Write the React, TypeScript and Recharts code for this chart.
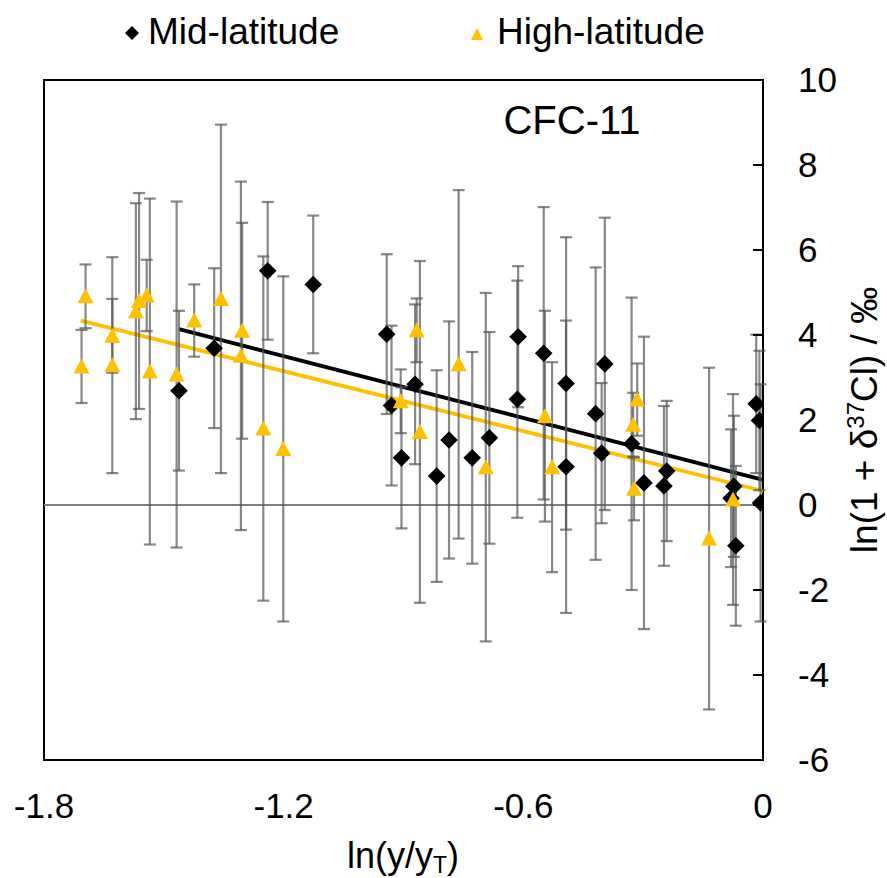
import React from 'react'
import { ScatterChart, Scatter, XAxis, YAxis, ErrorBar, ReferenceLine, ReferenceArea, Label } from 'recharts'

const FONT = '"Liberation Sans", Arial, sans-serif'
const GOLD = '#FFC000'

const xTicks = [-1.8, -1.2, -0.6, 0]
const yTicks = [-6, -4, -2, 0, 2, 4, 6, 8, 10]

// Mid-latitude samples: ln(y/yT), ln(1+d37Cl) in permil, 1-sigma error
const midX = [-1.462, -1.374, -1.24, -1.126, -0.942, -0.93, -0.871, -0.905, -0.817, -0.786, -0.728, -0.685, -0.613, -0.615, -0.549, -0.493, -0.493, -0.396, -0.419, -0.404, -0.329, -0.298, -0.241, -0.248, -0.073, -0.08, -0.068, -0.017, -0.009, -0.006]
const midY = [2.69, 3.69, 5.51, 5.19, 4.02, 2.34, 2.84, 1.11, 0.68, 1.53, 1.11, 1.58, 3.96, 2.49, 3.57, 2.86, 0.9, 3.32, 2.15, 1.22, 1.44, 0.52, 0.8, 0.45, 0.44, 0.16, -0.96, 2.38, 1.99, 0.05]
const midErr = [1.88, 1.88, 1.62, 1.62, 1.88, 1.88, 1.88, 1.66, 2.49, 2.79, 2.49, 2.49, 1.66, 2.79, 3.44, 3.44, 3.44, 3.44, 3.44, 1.65, 3.44, 3.44, 1.65, 1.88, 1.66, 1.62, 1.88, 1.63, 1.64, 2.79]

// High-latitude samples
const highX = [-1.696, -1.706, -1.629, -1.629, -1.57, -1.562, -1.543, -1.535, -1.468, -1.424, -1.357, -1.304, -1.307, -1.251, -1.201, -0.907, -0.867, -0.859, -0.762, -0.694, -0.546, -0.528, -0.315, -0.325, -0.323, -0.135, -0.075]
const highY = [4.91, 3.26, 3.98, 3.29, 4.56, 4.8, 4.93, 3.14, 3.07, 4.34, 4.85, 4.1, 3.51, 1.8, 1.32, 2.44, 4.11, 1.72, 3.31, 0.89, 2.09, 0.89, 2.48, 1.89, 0.38, -0.79, 0.13]
const highErr = [0.75, 0.86, 0.87, 2.54, 2.54, 2.54, 0.84, 4.07, 4.07, 0.85, 4.1, 2.54, 4.1, 4.05, 4.06, 0.75, 0.75, 4.02, 4.1, 4.1, 2.48, 2.47, 0.85, 0.75, 0.74, 4.02, 2.48]

// linear fits (end points)
const fitMid = [{ x: -1.462, y: 4.14 }, { x: 0, y: 0.59 }]
const fitHigh = [{ x: -1.708, y: 4.34 }, { x: 0, y: 0.33 }]

const midData = midX.map((x, i) => ({ x, y: midY[i], err: midErr[i] }))
const highData = highX.map((x, i) => ({ x, y: highY[i], err: highErr[i] }))

function Diamond(props: any) {
  const { cx, cy } = props
  const r = 8.8
  return <polygon points={`${cx},${cy - r} ${cx + r},${cy} ${cx},${cy + r} ${cx - r},${cy}`} fill="#000" />
}

function Triangle(props: any) {
  const { cx, cy } = props
  return <polygon points={`${cx},${cy - 8} ${cx + 8},${cy + 7} ${cx - 8},${cy + 7}`} fill={GOLD} />
}

function YTick(props: any) {
  const { x, y, payload } = props
  return (
    <g>
      <line x1={x - 10} y1={y} x2={x} y2={y} stroke="#000" strokeWidth={2} />
      <text x={x + 35} y={y} dy="0.35em" fontSize={35} fontFamily={FONT} fill="#000">
        {payload.value}
      </text>
    </g>
  )
}

const YTitle = () => (
  <text x={877} y={420} transform="rotate(-90, 877, 420)" textAnchor="middle" fontSize={37} fontFamily={FONT} fill="#000">
    ln(1 + δ<tspan dy={-13} fontSize={24}>37</tspan>
    <tspan dy={13}>Cl) / ‰</tspan>
  </text>
)

const XTitle = () => (
  <text x={403} y={868} textAnchor="middle" fontSize={36} fontFamily={FONT} fill="#000">
    ln(y/y<tspan dy={5} fontSize={23}>T</tspan>
    <tspan dy={-5}>)</tspan>
  </text>
)

export default function App() {
  return (
    <div style={{ position: 'absolute', left: 0, top: 0, width: 887, height: 878, background: '#fff' }}>
      <ScatterChart width={887} height={878} margin={{ top: 80, left: 44, right: 0, bottom: 0 }}>
        <XAxis
          type="number"
          dataKey="x"
          domain={[-1.8, 0]}
          ticks={xTicks}
          height={118}
          axisLine={false}
          tickLine={false}
          tickSize={0}
          tickMargin={33}
          tick={{ fontSize: 35, fontFamily: FONT, fill: '#000' }}
          allowDataOverflow
        >
          <Label content={XTitle} />
        </XAxis>
        <YAxis
          type="number"
          dataKey="y"
          orientation="right"
          domain={[-6, 10]}
          ticks={yTicks}
          width={124}
          axisLine={false}
          tickLine={false}
          tickSize={0}
          tickMargin={0}
          tick={YTick}
          allowDataOverflow
        >
          <Label content={YTitle} />
        </YAxis>
        <ReferenceArea x1={-1.8} x2={0} y1={-6} y2={10} fill="none" fillOpacity={0} stroke="#000" strokeWidth={2} />
        <ReferenceLine y={0} stroke="#7f7f7f" strokeWidth={2} />
        <ReferenceLine segment={fitMid} stroke="#000" strokeWidth={3.8} />
        <ReferenceLine segment={fitHigh} stroke={GOLD} strokeWidth={3.8} />
        <Scatter name="Mid-latitude" data={midData} shape={Diamond} isAnimationActive={false}>
          <ErrorBar dataKey="err" direction="y" width={6} stroke="#555" strokeOpacity={0.7} strokeWidth={2.2} />
        </Scatter>
        <Scatter name="High-latitude" data={highData} shape={Triangle} isAnimationActive={false}>
          <ErrorBar dataKey="err" direction="y" width={6} stroke="#555" strokeOpacity={0.7} strokeWidth={2.2} />
        </Scatter>
      </ScatterChart>
      <svg width={887} height={70} style={{ position: 'absolute', left: 0, top: 0 }}>
        <polygon points="132,26 139,33 132,40 125,33" fill="#000" />
        <text x={148} y={44} fontSize={37} fontFamily={FONT} fill="#000">Mid-latitude</text>
        <polygon points="477,28 483,40 471,40" fill={GOLD} />
        <text x={497} y={44} fontSize={37} fontFamily={FONT} fill="#000">High-latitude</text>
      </svg>
      <svg width={887} height={878} style={{ position: 'absolute', left: 0, top: 0, pointerEvents: 'none' }}>
        <text x={572} y={134} textAnchor="middle" fontSize={40} fontFamily={FONT} fill="#000">CFC-11</text>
      </svg>
    </div>
  )
}
